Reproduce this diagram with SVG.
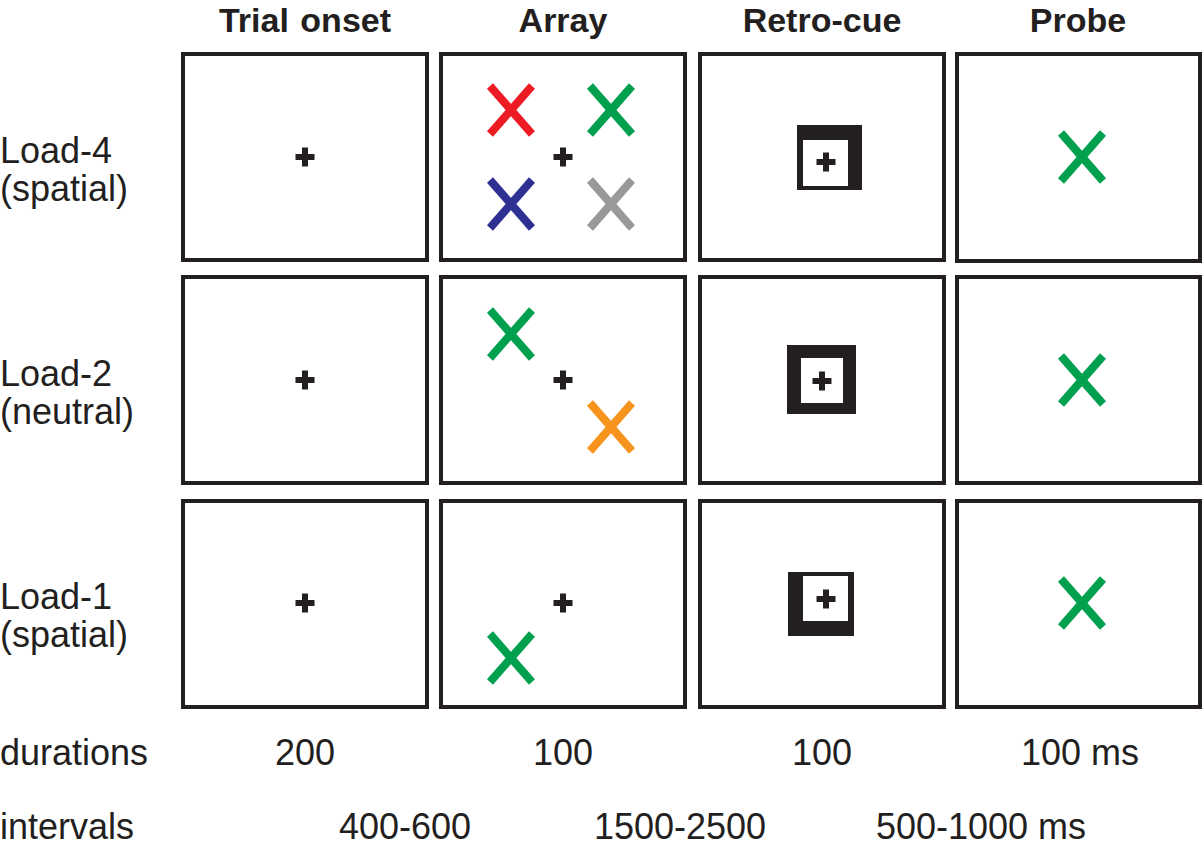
<svg xmlns="http://www.w3.org/2000/svg" width="1204" height="848" viewBox="0 0 1204 848">
<style>
.panel{fill:#fff;stroke:#231f20;stroke-width:4}
.title{font-family:"Liberation Sans",Arial,sans-serif;font-weight:bold;font-size:34px;fill:#231f20;text-anchor:middle}
.lbl{font-family:"Liberation Sans",Arial,sans-serif;font-size:36px;fill:#231f20}
.mid{text-anchor:middle}
.fix{fill:#231f20}
.x line{stroke-width:8;stroke-linecap:butt}
</style>
<defs>
<g id="plus"><rect x="-9.5" y="-3" width="19" height="6"/><rect x="-3" y="-9.5" width="6" height="19"/></g>
<g id="xm" class="x"><line x1="-21" y1="-24" x2="21" y2="24"/><line x1="-21" y1="24" x2="21" y2="-24"/></g>
</defs>
<rect width="1204" height="848" fill="#fff"/>
<g id="titles">
<text class="title" x="305" y="32" word-spacing="2">Trial onset</text>
<text class="title" x="563" y="32">Array</text>
<text class="title" x="822" y="32">Retro-cue</text>
<text class="title" x="1078" y="32">Probe</text>
</g>
<g id="rowlabels" class="lbl">
<text x="0" y="163">Load-4</text><text x="0" y="201">(spatial)</text>
<text x="0" y="386">Load-2</text><text x="0" y="424">(neutral)</text>
<text x="0" y="609">Load-1</text><text x="0" y="647">(spatial)</text>
</g>
<g id="row1">
<g id="r1-onset"><rect class="panel" x="183" y="54" width="244" height="206"/><use href="#plus" class="fix" x="305" y="157"/></g>
<g id="r1-array"><rect class="panel" x="441" y="54" width="244" height="206"/><use href="#plus" class="fix" x="563" y="157"/>
<use href="#xm" x="511" y="110" stroke="#ed1c24"/><use href="#xm" x="611" y="110" stroke="#00a04e"/>
<use href="#xm" x="511" y="204" stroke="#2e3192"/><use href="#xm" x="611" y="204" stroke="#999999"/></g>
<g id="r1-cue"><rect class="panel" x="700" y="54" width="244" height="206"/>
<rect x="797" y="125" width="65" height="65" fill="#231f20"/><rect x="803" y="140" width="45" height="46" fill="#fff"/>
<use href="#plus" class="fix" x="826" y="162"/></g>
<g id="r1-probe"><rect class="panel" x="957" y="54" width="243" height="207"/><use href="#xm" x="1082" y="157" stroke="#00a04e"/></g>
</g>
<g id="row2">
<g id="r2-onset"><rect class="panel" x="183" y="277" width="244" height="206"/><use href="#plus" class="fix" x="305" y="380"/></g>
<g id="r2-array"><rect class="panel" x="441" y="277" width="244" height="206"/><use href="#plus" class="fix" x="563" y="380"/>
<use href="#xm" x="511" y="334" stroke="#00a04e"/><use href="#xm" x="611" y="427" stroke="#f7941d"/></g>
<g id="r2-cue"><rect class="panel" x="700" y="277" width="244" height="206"/>
<rect x="787" y="345" width="69" height="69" fill="#231f20"/><rect x="801" y="358" width="42" height="45" fill="#fff"/>
<use href="#plus" class="fix" x="822" y="381"/></g>
<g id="r2-probe"><rect class="panel" x="957" y="277" width="243" height="206"/><use href="#xm" x="1082" y="380" stroke="#00a04e"/></g>
</g>
<g id="row3">
<g id="r3-onset"><rect class="panel" x="183" y="501" width="244" height="206"/><use href="#plus" class="fix" x="305" y="603"/></g>
<g id="r3-array"><rect class="panel" x="441" y="501" width="244" height="206"/><use href="#plus" class="fix" x="563" y="603"/>
<use href="#xm" x="511" y="658" stroke="#00a04e"/></g>
<g id="r3-cue"><rect class="panel" x="700" y="501" width="244" height="206"/>
<rect x="788" y="572" width="66" height="64" fill="#231f20"/><rect x="803" y="576" width="45" height="45" fill="#fff"/>
<use href="#plus" class="fix" x="826" y="599"/></g>
<g id="r3-probe"><rect class="panel" x="957" y="501" width="243" height="206"/><use href="#xm" x="1082" y="603" stroke="#00a04e"/></g>
</g>
<g id="timing" class="lbl">
<text x="0" y="765">durations</text>
<text class="mid" x="305" y="765">200</text>
<text class="mid" x="563" y="765">100</text>
<text class="mid" x="822" y="765">100</text>
<text class="mid" x="1080" y="765">100 ms</text>
<text x="0" y="839">intervals</text>
<text class="mid" x="405" y="839">400-600</text>
<text class="mid" x="680" y="839">1500-2500</text>
<text class="mid" x="981" y="839">500-1000 ms</text>
</g>
</svg>
